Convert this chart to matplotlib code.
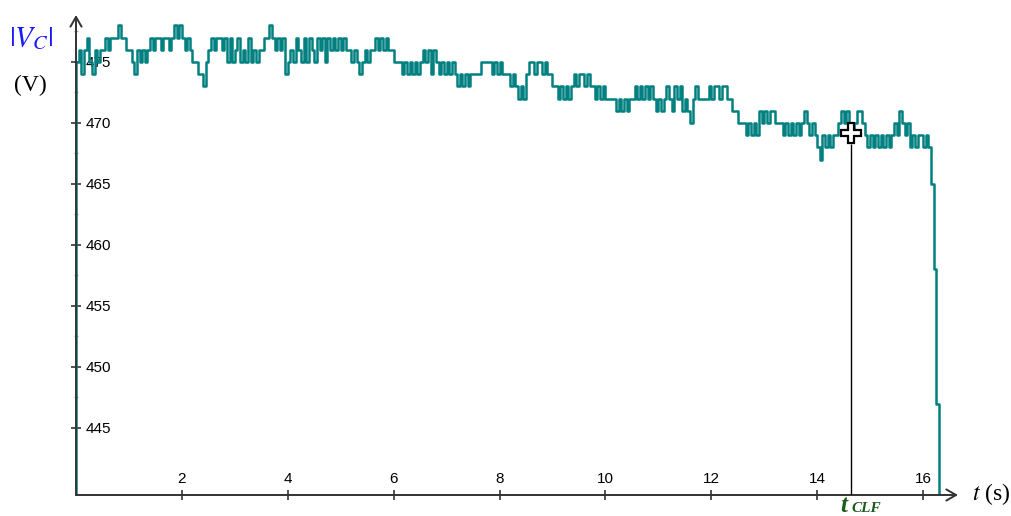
import numpy as np
import matplotlib
matplotlib.use('Agg')
import matplotlib.pyplot as plt

plt.rcParams['font.family'] = ['Liberation Sans', 'DejaVu Sans']
plt.rcParams['mathtext.fontset'] = 'stix'

dt = 0.05
vc = [
    438, 475, 476, 474, 476, 477, 475, 474, 476, 475, 476, 476, 477, 476, 477, 477, 477, 478, 477, 477,
    476, 476, 475, 474, 476, 475, 476, 475, 476, 477, 476, 477, 477, 476, 477, 477, 476, 477, 478, 477,
    478, 477, 476, 477, 476, 475, 475, 474, 474, 473, 475, 476, 477, 476, 477, 477, 476, 477, 475, 477,
    475, 476, 477, 475, 476, 475, 477, 475, 476, 475, 476, 476, 477, 477, 478, 477, 476, 477, 476, 477,
    474, 475, 476, 475, 477, 476, 475, 477, 475, 477, 476, 475, 477, 476, 477, 475, 477, 476, 477, 476,
    477, 476, 477, 476, 476, 475, 476, 475, 474, 475, 476, 475, 476, 476, 477, 476, 477, 476, 477, 476,
    476, 475, 475, 475, 474, 475, 474, 475, 474, 475, 474, 475, 476, 475, 476, 474, 476, 475, 474, 475,
    474, 475, 474, 475, 474, 473, 474, 473, 474, 473, 474, 474, 474, 474, 475, 475, 475, 475, 474, 475,
    474, 475, 474, 474, 474, 473, 474, 473, 472, 473, 472, 474, 475, 475, 474, 475, 475, 474, 475, 474,
    474, 473, 473, 472, 473, 472, 473, 472, 473, 474, 473, 474, 474, 473, 474, 473, 473, 472, 473, 472,
    473, 472, 472, 472, 472, 471, 472, 471, 472, 471, 472, 472, 473, 472, 473, 472, 473, 472, 473, 472,
    471, 472, 471, 472, 473, 472, 471, 473, 472, 473, 471, 472, 471, 470, 472, 473, 472, 472, 472, 472,
    473, 472, 473, 473, 472, 473, 473, 472, 472, 471, 471, 470, 470, 470, 469, 470, 469, 470, 469, 471,
    470, 471, 470, 471, 471, 470, 470, 470, 469, 470, 469, 470, 469, 470, 469, 470, 471, 470, 469, 470,
    469, 468, 467, 469, 468, 469, 468, 469, 469, 470, 471, 470, 471, 470, 469, 470, 471, 471, 470, 469,
    468, 469, 468, 469, 468, 469, 468, 469, 468, 469, 470, 469, 471, 470, 469, 470, 468, 469, 468, 469,
    469, 468, 469, 468, 465, 458, 447, 436,
]
t = np.arange(len(vc)) * dt

x_ticks = [2, 4, 6, 8, 10, 12, 14, 16]
y_ticks = [445, 450, 455, 460, 465, 470, 475]
y_minor = [447.5, 452.5, 457.5, 462.5, 467.5, 472.5, 477.5]

t_clf = 14.64
v_clf = 469.2

fig = plt.figure(figsize=(10.12, 5.16), dpi=100)
ax = fig.add_axes([76 / 1012, 21 / 516, (958 - 76) / 1012, (495 - 15) / 516])
ax.set_xlim(0, 16.66)
ax.set_ylim(439.5, 478.85)

ax.plot(t, vc, drawstyle='steps-pre', color='#008080', lw=1.8, zorder=3)

# t_CLF cursor
ax.vlines(t_clf, 439.5, v_clf - 0.9, color='black', lw=1, zorder=4)
ax.plot(t_clf, v_clf, marker='P', ms=15, mfc='white', mec='black', mew=1.6, zorder=5)

for s in ax.spines.values():
    s.set_visible(False)
arrow = dict(arrowstyle='->,head_length=0.7,head_width=0.4', color='#333333', lw=1.4,
             shrinkA=0, shrinkB=0)
ax.annotate('', xy=(1, 0), xytext=(0, 0), xycoords='axes fraction', arrowprops=arrow,
            annotation_clip=False)
ax.annotate('', xy=(0, 1), xytext=(0, 0), xycoords='axes fraction', arrowprops=arrow,
            annotation_clip=False)

ax.set_xticks(x_ticks)
ax.set_yticks(y_ticks)
ax.set_yticks(y_minor, minor=True)
ax.tick_params(axis='x', direction='inout', length=7, width=1.2, color='#333333',
               pad=-20, labelsize=11)
ax.tick_params(axis='y', which='major', direction='inout', length=7, width=1.2,
               color='#333333', pad=-10.5, labelsize=11)
ax.tick_params(axis='y', which='minor', direction='inout', length=3, width=1, color='#aaaaaa')
for lbl in ax.get_yticklabels():
    lbl.set_horizontalalignment('left')

serif = ['Liberation Serif', 'DejaVu Serif']
fig.text(31 / 1012, 1 - 38 / 516, r'$|V_C|$', color='#1a1aff', fontsize=21, ha='center', va='center')
fig.text(30 / 1012, 1 - 85 / 516, '(V)', family=serif, fontsize=17, ha='center', va='center')
fig.text(991 / 1012, 1 - 494 / 516, r'$t$ (s)', family=serif, fontsize=17, ha='center', va='center')
fig.text(844 / 1012, 1 - 505 / 516, 't', family=serif, style='italic', weight='bold',
         color='#1e5a1e', fontsize=18, ha='center', va='center')
fig.text(851 / 1012, 1 - 509 / 516, 'CLF', family=serif, style='italic', weight='bold',
         color='#1e5a1e', fontsize=11, ha='left', va='center')

fig.savefig('out.png', dpi=100)
